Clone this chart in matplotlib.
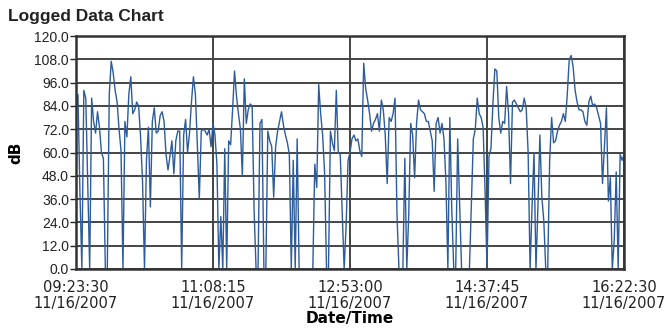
import numpy as np
import pandas as pd
import matplotlib
matplotlib.use("Agg")
import matplotlib.pyplot as plt
import matplotlib.dates as mdates

# sound level readings, evenly spaced from 09:23:30 to 16:22:30
start = "2007-11-16 09:23:30"
end = "2007-11-16 16:22:30"
db = [
    82, 90, 40, 0, 92, 88, 45, 0, 88, 76, 70, 81, 73, 60, 57, 0, 0, 90, 107, 101,
    92, 86, 72, 61, 0, 76, 68, 90, 99, 80, 82, 86, 84, 68, 45, 0, 56, 73, 32, 76,
    83, 70, 71, 79, 81, 76, 59, 51, 58, 66, 49, 66, 71, 71, 0, 69, 77, 60, 70, 86,
    99, 90, 64, 36, 71, 72, 71, 69, 72, 63, 75, 69, 54, 0, 27, 0, 62, 0, 66, 64,
    82, 102, 89, 80, 72, 48, 98, 75, 82, 85, 84, 30, 0, 0, 75, 77, 0, 0, 71, 66,
    63, 37, 63, 71, 76, 81, 74, 69, 65, 59, 0, 56, 0, 67, 0, 0, 0, 0, 0, 0,
    0, 0, 54, 42, 95, 80, 69, 50, 0, 0, 71, 65, 61, 92, 60, 59, 30, 0, 22, 56,
    60, 67, 69, 66, 67, 61, 58, 106, 93, 87, 80, 71, 75, 77, 80, 71, 87, 82, 69, 44,
    78, 76, 80, 88, 28, 0, 0, 0, 57, 0, 28, 75, 69, 47, 75, 87, 82, 81, 80, 76,
    76, 71, 66, 40, 75, 78, 70, 75, 67, 45, 0, 78, 30, 0, 0, 67, 33, 0, 0, 0,
    0, 0, 33, 67, 72, 88, 80, 78, 73, 40, 0, 58, 62, 85, 103, 102, 78, 70, 76, 75,
    94, 80, 44, 86, 87, 85, 83, 81, 82, 88, 83, 60, 0, 32, 60, 0, 32, 69, 37, 25,
    0, 0, 56, 78, 65, 66, 71, 74, 76, 80, 76, 90, 108, 110, 104, 92, 86, 82, 82, 81,
    76, 74, 86, 89, 84, 85, 83, 79, 75, 44, 63, 83, 35, 47, 0, 15, 50, 0, 59, 56,
    59,
]
times = pd.date_range(start, end, periods=len(db))
tick_times = pd.date_range(start, end, periods=5)

fig = plt.figure(figsize=(6.66, 3.28), dpi=100)
ax = fig.add_axes([0.1141, 0.1799, 0.8229, 0.7103])

ax.plot(times, db, color="#2d5c9c", lw=1.0)

ax.set_xlim(times[0], times[-1])
ax.set_ylim(0, 120)
ax.set_yticks(np.arange(0, 121, 12))
ax.yaxis.set_major_formatter(plt.FormatStrFormatter("%.1f"))
ax.set_xticks(tick_times)
ax.xaxis.set_major_formatter(mdates.DateFormatter("%H:%M:%S\n%m/%d/%Y"))

ax.grid(True, color="#444444", lw=1.4)
ax.set_axisbelow(True)
for s in ax.spines.values():
    s.set_color("#333333")
    s.set_linewidth(1.8)
ax.tick_params(axis="y", length=4, width=1, colors="#222222", labelsize=10, pad=1)
ax.tick_params(axis="x", length=0, colors="#222222", labelsize=10.5, pad=8)
for lab in ax.get_yticklabels():
    lab.set_family("Liberation Sans")
for lab in ax.get_xticklabels():
    lab.set_family("DejaVu Sans Condensed")
    lab.set_linespacing(1.05)

ax.set_ylabel("dB", fontsize=11, fontweight="bold", family="DejaVu Sans", labelpad=8)
ax.set_xlabel("Date/Time", fontsize=11, fontweight="bold", family="DejaVu Sans", labelpad=0)
fig.text(0.012, 0.935, "Logged Data Chart", fontsize=12.5, fontweight="bold",
         family="Liberation Sans", color="#222222")

fig.savefig("out.png", dpi=100)
